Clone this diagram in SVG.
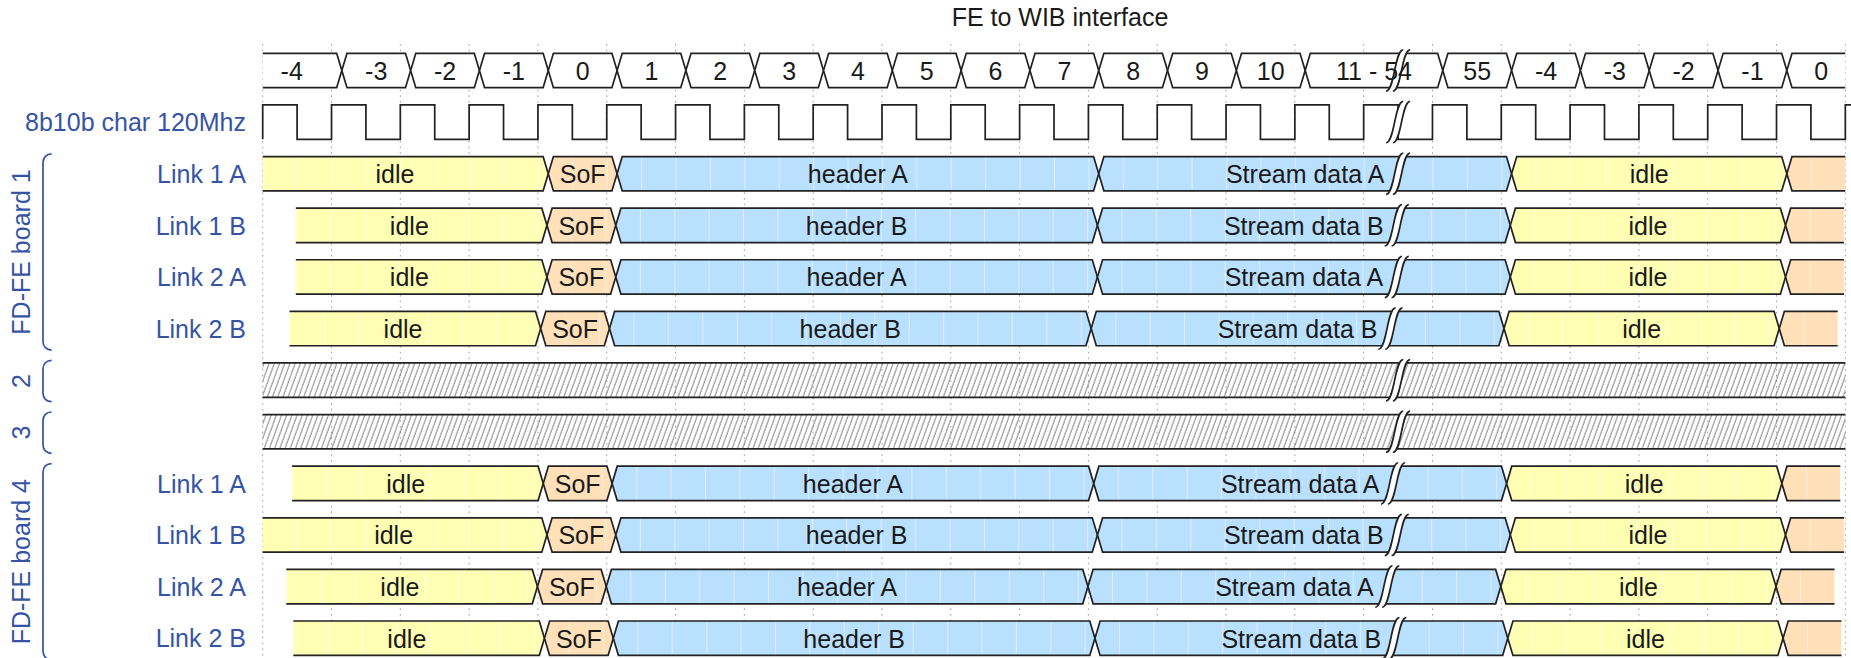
<svg xmlns="http://www.w3.org/2000/svg" xmlns:xlink="http://www.w3.org/1999/xlink" width="1851" height="658" viewBox="0 0 1851 658">
  <style>
    .w { fill: #ffffff; stroke: #222222; stroke-width: 1.72; }
    .y { fill: url(#pY); stroke: #222222; stroke-width: 1.72; }
    .o { fill: url(#pO); stroke: #222222; stroke-width: 1.72; }
    .b { fill: url(#pB); stroke: #222222; stroke-width: 1.72; }
    .ln { fill: none; stroke: #222222; stroke-width: 1.72; }
    .grid { fill: none; stroke: #999999; stroke-width: 0.9; stroke-dasharray: 1.7 4; }
    .t { font-family: "Liberation Sans", Arial, Helvetica, sans-serif; font-size: 25px; text-anchor: middle; fill: #1a1a1a; }
    .name { font-family: "Liberation Sans", Arial, Helvetica, sans-serif; font-size: 25px; text-anchor: end; fill: #3654a5; }
    .grp { font-family: "Liberation Sans", Arial, Helvetica, sans-serif; font-size: 25px; text-anchor: middle; fill: #3654a5; }
    .brace { fill: none; stroke: #3654a5; stroke-width: 1.72; }
    .title { font-family: "Liberation Sans", Arial, Helvetica, sans-serif; font-size: 25px; text-anchor: middle; fill: #1a1a1a; }
  </style>
  <defs>
    <!-- brick fills: one tile per half period, with a faint seam at each brick edge -->
    <pattern id="pY" patternUnits="userSpaceOnUse" x="262.7" y="0" width="34.405" height="40">
      <rect width="34.405" height="40" fill="#ffffb4"/>
      <rect width="1" height="40" fill="#ffffff" opacity="0.5"/>
    </pattern>
    <pattern id="pO" patternUnits="userSpaceOnUse" x="262.7" y="0" width="34.405" height="40">
      <rect width="34.405" height="40" fill="#ffe0b9"/>
      <rect width="1" height="40" fill="#ffffff" opacity="0.5"/>
    </pattern>
    <pattern id="pB" patternUnits="userSpaceOnUse" x="262.7" y="0" width="34.405" height="40">
      <rect width="34.405" height="40" fill="#b9e0ff"/>
      <rect width="1" height="40" fill="#ffffff" opacity="0.5"/>
    </pattern>
    <!-- undefined ('x') lanes -->
    <pattern id="hatch" patternUnits="userSpaceOnUse" width="5.2" height="40" patternTransform="skewX(-20)">
      <line x1="1" y1="0" x2="1" y2="40" stroke="#6e6e6e" stroke-width="0.9"/>
    </pattern>
    <!-- time gap marker, drawn in brick units (lane 0..20) -->
    <g id="gap">
      <path d="M -7,22 C -2,22 -2,-2 3,-2 L 7,-2 C 2,-2 2,22 -3,22 Z" fill="#ffffff" stroke="none"/>
      <path d="M -7,22 C -2,22 -2,-2 3,-2" fill="none" stroke="#222222" stroke-width="1"/>
      <path d="M -3,22 C 2,22 2,-2 7,-2" fill="none" stroke="#222222" stroke-width="1"/>
    </g>
    <!-- one-period and two-period value cells -->
    <path id="cell1" class="w" d="M 10.32,17.2 L 15.48,0 L 73.97,0 L 79.13,17.2 L 73.97,34.41 L 15.48,34.41 Z"/>
    <path id="cell2" class="w" d="M 10.32,17.2 L 15.48,0 L 142.78,0 L 147.94,17.2 L 142.78,34.41 L 15.48,34.41 Z"/>
    <!-- common part of a link lane: SoF, header, stream data, idle, next SoF -->
    <g id="linkBody">
      <path class="o" d="M 548.26,17.2 L 553.42,0 L 611.91,0 L 617.07,17.2 L 611.91,34.41 L 553.42,34.41 Z"/>
      <path class="b" d="M 617.07,17.2 L 622.23,0 L 1093.58,0 L 1098.74,17.2 L 1093.58,34.41 L 622.23,34.41 Z"/>
      <path class="b" d="M 1098.74,17.2 L 1103.9,0 L 1506.44,0 L 1511.6,17.2 L 1506.44,34.41 L 1103.9,34.41 Z"/>
      <path class="y" d="M 1511.6,17.2 L 1516.76,0 L 1781.68,0 L 1786.84,17.2 L 1781.68,34.41 L 1516.76,34.41 Z"/>
      <path class="o" d="M 1845.33,0 L 1792,0 L 1786.84,17.2 L 1792,34.41 L 1845.33,34.41"/>
      <use xlink:href="#gap" href="#gap" transform="translate(1398.07,0) scale(1.7203)"/>
      <text class="t" x="582.67" y="26.5">SoF</text>
      <text class="t" x="1649.22" y="26.5">idle</text>
    </g>
  </defs>

  <rect width="1851" height="658" fill="#ffffff"/>

  <!-- period grid -->
  <path id="grid" class="grid" d="M 262.7,44 V 658 M 331.51,44 V 658 M 400.32,44 V 658 M 469.13,44 V 658 M 537.94,44 V 658 M 606.75,44 V 658 M 675.56,44 V 658 M 744.37,44 V 658 M 813.18,44 V 658 M 881.99,44 V 658 M 950.8,44 V 658 M 1019.61,44 V 658 M 1088.42,44 V 658 M 1157.23,44 V 658 M 1226.04,44 V 658 M 1294.85,44 V 658 M 1363.66,44 V 658 M 1432.47,44 V 658 M 1501.28,44 V 658 M 1570.09,44 V 658 M 1638.9,44 V 658 M 1707.71,44 V 658 M 1776.52,44 V 658 M 1845.33,44 V 658"/>

  <text id="title" class="title" x="1060" y="26">FE to WIB interface</text>

  <!-- character counter lane -->
  <g id="counter">
    <path class="w" d="M 262.7,53.3 L 336.67,53.3 L 341.83,70.5 L 336.67,87.71 L 262.7,87.71"/>
    <use xlink:href="#cell1" href="#cell1" x="331.51" y="53.3"/>
    <use xlink:href="#cell1" href="#cell1" x="400.32" y="53.3"/>
    <use xlink:href="#cell1" href="#cell1" x="469.13" y="53.3"/>
    <use xlink:href="#cell1" href="#cell1" x="537.94" y="53.3"/>
    <use xlink:href="#cell1" href="#cell1" x="606.75" y="53.3"/>
    <use xlink:href="#cell1" href="#cell1" x="675.56" y="53.3"/>
    <use xlink:href="#cell1" href="#cell1" x="744.37" y="53.3"/>
    <use xlink:href="#cell1" href="#cell1" x="813.18" y="53.3"/>
    <use xlink:href="#cell1" href="#cell1" x="881.99" y="53.3"/>
    <use xlink:href="#cell1" href="#cell1" x="950.8" y="53.3"/>
    <use xlink:href="#cell1" href="#cell1" x="1019.61" y="53.3"/>
    <use xlink:href="#cell1" href="#cell1" x="1088.42" y="53.3"/>
    <use xlink:href="#cell1" href="#cell1" x="1157.23" y="53.3"/>
    <use xlink:href="#cell1" href="#cell1" x="1226.04" y="53.3"/>
    <use xlink:href="#cell2" href="#cell2" x="1294.85" y="53.3"/>
    <use xlink:href="#cell1" href="#cell1" x="1432.47" y="53.3"/>
    <use xlink:href="#cell1" href="#cell1" x="1501.28" y="53.3"/>
    <use xlink:href="#cell1" href="#cell1" x="1570.09" y="53.3"/>
    <use xlink:href="#cell1" href="#cell1" x="1638.9" y="53.3"/>
    <use xlink:href="#cell1" href="#cell1" x="1707.71" y="53.3"/>
    <path class="w" d="M 1845.33,53.3 L 1792,53.3 L 1786.84,70.5 L 1792,87.71 L 1845.33,87.71"/>
    <use xlink:href="#gap" href="#gap" transform="translate(1398.07,53.3) scale(1.7203)"/>
    <text class="t" x="291.7" y="79.8">-4</text>
    <text class="t" x="376.24" y="79.8">-3</text>
    <text class="t" x="445.05" y="79.8">-2</text>
    <text class="t" x="513.86" y="79.8">-1</text>
    <text class="t" x="582.67" y="79.8">0</text>
    <text class="t" x="651.48" y="79.8">1</text>
    <text class="t" x="720.29" y="79.8">2</text>
    <text class="t" x="789.1" y="79.8">3</text>
    <text class="t" x="857.91" y="79.8">4</text>
    <text class="t" x="926.72" y="79.8">5</text>
    <text class="t" x="995.53" y="79.8">6</text>
    <text class="t" x="1064.34" y="79.8">7</text>
    <text class="t" x="1133.15" y="79.8">8</text>
    <text class="t" x="1201.96" y="79.8">9</text>
    <text class="t" x="1270.77" y="79.8">10</text>
    <text class="t" x="1373.98" y="79.8">11 - 54</text>
    <text class="t" x="1477.2" y="79.8">55</text>
    <text class="t" x="1546.01" y="79.8">-4</text>
    <text class="t" x="1614.82" y="79.8">-3</text>
    <text class="t" x="1683.63" y="79.8">-2</text>
    <text class="t" x="1752.44" y="79.8">-1</text>
    <text class="t" x="1821.25" y="79.8">0</text>
  </g>

  <!-- 8b10b character clock -->
  <g id="clock">
    <text class="name" x="246" y="131.1">8b10b char 120Mhz</text>
    <path class="ln" d="M 262.7,139.32 v -34.41 h 34.405 v 34.41 h 34.405 v -34.41 h 34.405 v 34.41 h 34.405 v -34.41 h 34.405 v 34.41 h 34.405 v -34.41 h 34.405 v 34.41 h 34.405 v -34.41 h 34.405 v 34.41 h 34.405 v -34.41 h 34.405 v 34.41 h 34.405 v -34.41 h 34.405 v 34.41 h 34.405 v -34.41 h 34.405 v 34.41 h 34.405 v -34.41 h 34.405 v 34.41 h 34.405 v -34.41 h 34.405 v 34.41 h 34.405 v -34.41 h 34.405 v 34.41 h 34.405 v -34.41 h 34.405 v 34.41 h 34.405 v -34.41 h 34.405 v 34.41 h 34.405 v -34.41 h 34.405 v 34.41 h 34.405 v -34.41 h 34.405 v 34.41 h 34.405 v -34.41 h 34.405 v 34.41 h 34.405 v -34.41 h 34.405 v 34.41 h 34.405 v -34.41 h 34.405 v 34.41 h 34.405 v -34.41 h 34.405 v 34.41 h 34.405 v -34.41 h 34.405 v 34.41 h 34.405 v -34.41 h 34.405 v 34.41 h 34.405 v -34.41 h 34.405 v 34.41 h 34.405 v -34.41 h 34.405 v 34.41 h 34.405 v -34.41 h 34.405 v 34.41 h 34.405"/>
    <use xlink:href="#gap" href="#gap" transform="translate(1398.07,104.91) scale(1.7203)"/>
  </g>

  <!-- FD-FE board 1 -->
  <g id="board1">
    <path class="brace" d="M 51.6,153.94 c -5.16,0 -8.6,3.44 -8.6,8.6 L 43,341.46 c 0,5.16 3.44,8.6 8.6,8.6"/>
    <text class="grp" transform="translate(29.8,252) rotate(-90)">FD-FE board 1</text>
  </g>
  <g id="b1-link1a">
    <text class="name" x="246" y="182.9">Link 1 A</text>
    <g transform="translate(0,156.52)">
      <path class="y" d="M 262.7,0 L 543.1,0 L 548.26,17.2 L 543.1,34.41 L 262.7,34.41"/>
      <use xlink:href="#linkBody" href="#linkBody"/>
      <text class="t" x="394.92" y="26.5">idle</text>
      <text class="t" x="857.91" y="26.5">header A</text>
      <text class="t" x="1305.17" y="26.5">Stream data A</text>
    </g>
  </g>
  <g id="b1-link1b">
    <text class="name" x="246" y="234.5">Link 1 B</text>
    <g transform="translate(-1.3,208.13)">
      <path class="y" d="M 297.1,0 L 543.1,0 L 548.26,17.2 L 543.1,34.41 L 297.1,34.41"/>
      <use xlink:href="#linkBody" href="#linkBody"/>
      <text class="t" x="410.64" y="26.5">idle</text>
      <text class="t" x="857.91" y="26.5">header B</text>
      <text class="t" x="1305.17" y="26.5">Stream data B</text>
    </g>
  </g>
  <g id="b1-link2a">
    <text class="name" x="246" y="286.1">Link 2 A</text>
    <g transform="translate(-1.3,259.74)">
      <path class="y" d="M 297.1,0 L 543.1,0 L 548.26,17.2 L 543.1,34.41 L 297.1,34.41"/>
      <use xlink:href="#linkBody" href="#linkBody"/>
      <text class="t" x="410.64" y="26.5">idle</text>
      <text class="t" x="857.91" y="26.5">header A</text>
      <text class="t" x="1305.17" y="26.5">Stream data A</text>
    </g>
  </g>
  <g id="b1-link2b">
    <text class="name" x="246" y="337.7">Link 2 B</text>
    <g transform="translate(-7.6,311.35)">
      <path class="y" d="M 297.1,0 L 543.1,0 L 548.26,17.2 L 543.1,34.41 L 297.1,34.41"/>
      <use xlink:href="#linkBody" href="#linkBody"/>
      <text class="t" x="410.64" y="26.5">idle</text>
      <text class="t" x="857.91" y="26.5">header B</text>
      <text class="t" x="1305.17" y="26.5">Stream data B</text>
    </g>
  </g>

  <!-- boards 2 and 3: undefined -->
  <g id="board2">
    <path class="brace" d="M 51.6,360.38 c -5.16,0 -8.6,3.44 -8.6,8.6 L 43,393.07 c 0,5.16 3.44,8.6 8.6,8.6"/>
    <text class="grp" transform="translate(29.8,381) rotate(-90)">2</text>
    <rect x="262.7" y="362.96" width="1582.63" height="34.41" fill="url(#hatch)"/>
    <path class="ln" d="M 262.7,362.96 H 1845.33 M 262.7,397.37 H 1845.33"/>
    <use xlink:href="#gap" href="#gap" transform="translate(1398.07,362.96) scale(1.7203)"/>
  </g>
  <g id="board3">
    <path class="brace" d="M 51.6,411.99 c -5.16,0 -8.6,3.44 -8.6,8.6 L 43,444.68 c 0,5.16 3.44,8.6 8.6,8.6"/>
    <text class="grp" transform="translate(29.8,432.6) rotate(-90)">3</text>
    <rect x="262.7" y="414.57" width="1582.63" height="34.41" fill="url(#hatch)"/>
    <path class="ln" d="M 262.7,414.57 H 1845.33 M 262.7,448.98 H 1845.33"/>
    <use xlink:href="#gap" href="#gap" transform="translate(1398.07,414.57) scale(1.7203)"/>
  </g>

  <!-- FD-FE board 4 -->
  <g id="board4">
    <path class="brace" d="M 51.6,463.6 c -5.16,0 -8.6,3.44 -8.6,8.6 L 43,651.12 c 0,5.16 3.44,8.6 8.6,8.6"/>
    <text class="grp" transform="translate(29.8,561.7) rotate(-90)">FD-FE board 4</text>
  </g>
  <g id="b4-link1a">
    <text class="name" x="246" y="492.6">Link 1 A</text>
    <g transform="translate(-5,466.18)">
      <path class="y" d="M 297.1,0 L 543.1,0 L 548.26,17.2 L 543.1,34.41 L 297.1,34.41"/>
      <use xlink:href="#linkBody" href="#linkBody"/>
      <text class="t" x="410.64" y="26.5">idle</text>
      <text class="t" x="857.91" y="26.5">header A</text>
      <text class="t" x="1305.17" y="26.5">Stream data A</text>
    </g>
  </g>
  <g id="b4-link1b">
    <text class="name" x="246" y="544.2">Link 1 B</text>
    <g transform="translate(-1.3,517.79)">
      <path class="y" d="M 264,0 L 543.1,0 L 548.26,17.2 L 543.1,34.41 L 264,34.41"/>
      <use xlink:href="#linkBody" href="#linkBody"/>
      <text class="t" x="394.92" y="26.5">idle</text>
      <text class="t" x="857.91" y="26.5">header B</text>
      <text class="t" x="1305.17" y="26.5">Stream data B</text>
    </g>
  </g>
  <g id="b4-link2a">
    <text class="name" x="246" y="595.8">Link 2 A</text>
    <g transform="translate(-10.8,569.4)">
      <path class="y" d="M 297.1,0 L 543.1,0 L 548.26,17.2 L 543.1,34.41 L 297.1,34.41"/>
      <use xlink:href="#linkBody" href="#linkBody"/>
      <text class="t" x="410.64" y="26.5">idle</text>
      <text class="t" x="857.91" y="26.5">header A</text>
      <text class="t" x="1305.17" y="26.5">Stream data A</text>
    </g>
  </g>
  <g id="b4-link2b">
    <text class="name" x="246" y="647.4">Link 2 B</text>
    <g transform="translate(-3.8,621.01)">
      <path class="y" d="M 297.1,0 L 543.1,0 L 548.26,17.2 L 543.1,34.41 L 297.1,34.41"/>
      <use xlink:href="#linkBody" href="#linkBody"/>
      <text class="t" x="410.64" y="26.5">idle</text>
      <text class="t" x="857.91" y="26.5">header B</text>
      <text class="t" x="1305.17" y="26.5">Stream data B</text>
    </g>
  </g>

  <!-- no connectors in a timing chart -->
  <g id="connectors"/>
</svg>
